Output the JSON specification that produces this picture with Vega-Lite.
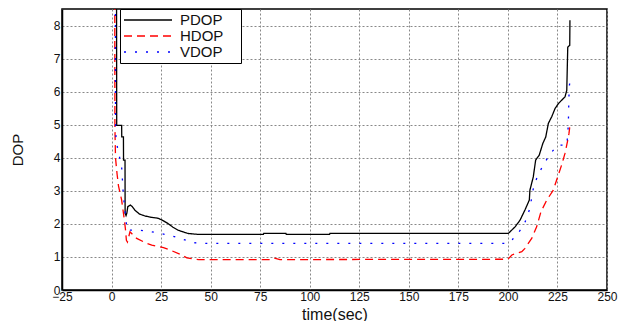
{
  "$schema": "https://vega.github.io/schema/vega-lite/v6.json",
  "width": 545,
  "height": 281,
  "autosize": "none",
  "padding": {"left": 62, "top": 9, "right": 12, "bottom": 31},
  "background": "white",
  "config": {
    "font": "Liberation Sans",
    "view": {"stroke": "#000", "strokeWidth": 1.5},
    "axis": {
      "domainColor": "#000",
      "domainWidth": 1.5,
      "ticks": false,
      "grid": true,
      "gridColor": "#888",
      "gridDash": [2, 2],
      "gridWidth": 1,
      "labelColor": "#111",
      "labelFontSize": 12,
      "labelFont": "Liberation Sans",
      "titleFont": "Liberation Sans",
      "titleFontWeight": "normal",
      "titleColor": "#111",
      "labelOverlap": false,
      "labelFlush": false
    },
    "legend": {
      "orient": "none",
      "legendX": 58,
      "legendY": 0,
      "strokeColor": "#000",
      "fillColor": "white",
      "padding": 3,
      "symbolType": "M-1,0H5.86",
      "symbolSize": 196,
      "symbolStrokeWidth": 1.3,
      "labelFontSize": 15,
      "labelColor": "#111",
      "labelFont": "Liberation Sans",
      "labelOffset": 41,
      "rowPadding": 0,
      "titleOrient": "right",
      "titlePadding": 15,
      "titleFontSize": 10
    }
  },
  "data": {
    "values": [
      {"t": 2.4, "v": 15, "s": "PDOP"},
      {"t": 2.6, "v": 4.98, "s": "PDOP"},
      {"t": 5.1, "v": 4.98, "s": "PDOP"},
      {"t": 5.15, "v": 4.63, "s": "PDOP"},
      {"t": 6.0, "v": 4.63, "s": "PDOP"},
      {"t": 6.05, "v": 3.93, "s": "PDOP"},
      {"t": 6.8, "v": 3.93, "s": "PDOP"},
      {"t": 6.85, "v": 2.32, "s": "PDOP"},
      {"t": 7.3, "v": 2.25, "s": "PDOP"},
      {"t": 7.7, "v": 2.32, "s": "PDOP"},
      {"t": 8.2, "v": 2.52, "s": "PDOP"},
      {"t": 9.5, "v": 2.57, "s": "PDOP"},
      {"t": 10.5, "v": 2.52, "s": "PDOP"},
      {"t": 11.7, "v": 2.42, "s": "PDOP"},
      {"t": 14, "v": 2.3, "s": "PDOP"},
      {"t": 16.8, "v": 2.24, "s": "PDOP"},
      {"t": 20, "v": 2.2, "s": "PDOP"},
      {"t": 23.5, "v": 2.17, "s": "PDOP"},
      {"t": 26, "v": 2.1, "s": "PDOP"},
      {"t": 28.5, "v": 2.01, "s": "PDOP"},
      {"t": 31, "v": 1.9, "s": "PDOP"},
      {"t": 33.5, "v": 1.81, "s": "PDOP"},
      {"t": 36, "v": 1.76, "s": "PDOP"},
      {"t": 38.5, "v": 1.71, "s": "PDOP"},
      {"t": 44, "v": 1.68, "s": "PDOP"},
      {"t": 76.6, "v": 1.68, "s": "PDOP"},
      {"t": 76.8, "v": 1.71, "s": "PDOP"},
      {"t": 88, "v": 1.71, "s": "PDOP"},
      {"t": 88.2, "v": 1.68, "s": "PDOP"},
      {"t": 110, "v": 1.68, "s": "PDOP"},
      {"t": 110.2, "v": 1.71, "s": "PDOP"},
      {"t": 200.2, "v": 1.71, "s": "PDOP"},
      {"t": 203.6, "v": 1.91, "s": "PDOP"},
      {"t": 206.1, "v": 2.11, "s": "PDOP"},
      {"t": 208.6, "v": 2.42, "s": "PDOP"},
      {"t": 210.8, "v": 2.72, "s": "PDOP"},
      {"t": 211.1, "v": 3.02, "s": "PDOP"},
      {"t": 212.8, "v": 3.42, "s": "PDOP"},
      {"t": 214, "v": 3.93, "s": "PDOP"},
      {"t": 215.8, "v": 4.08, "s": "PDOP"},
      {"t": 217.6, "v": 4.43, "s": "PDOP"},
      {"t": 219.1, "v": 4.63, "s": "PDOP"},
      {"t": 220.4, "v": 5.04, "s": "PDOP"},
      {"t": 222.1, "v": 5.24, "s": "PDOP"},
      {"t": 223.8, "v": 5.49, "s": "PDOP"},
      {"t": 225.5, "v": 5.64, "s": "PDOP"},
      {"t": 227.1, "v": 5.74, "s": "PDOP"},
      {"t": 228.8, "v": 5.84, "s": "PDOP"},
      {"t": 229.7, "v": 6.04, "s": "PDOP"},
      {"t": 230.2, "v": 7.35, "s": "PDOP"},
      {"t": 231.2, "v": 7.4, "s": "PDOP"},
      {"t": 231.3, "v": 8.16, "s": "PDOP"},

      {"t": 1.5, "v": 15, "s": "HDOP"},
      {"t": 1.7, "v": 4.9, "s": "HDOP"},
      {"t": 2.0, "v": 4.0, "s": "HDOP"},
      {"t": 2.8, "v": 3.5, "s": "HDOP"},
      {"t": 3.5, "v": 3.15, "s": "HDOP"},
      {"t": 5.1, "v": 2.72, "s": "HDOP"},
      {"t": 6.5, "v": 2.1, "s": "HDOP"},
      {"t": 7.0, "v": 1.85, "s": "HDOP"},
      {"t": 7.5, "v": 1.5, "s": "HDOP"},
      {"t": 8.0, "v": 1.45, "s": "HDOP"},
      {"t": 9.3, "v": 1.76, "s": "HDOP"},
      {"t": 12.7, "v": 1.56, "s": "HDOP"},
      {"t": 17.8, "v": 1.41, "s": "HDOP"},
      {"t": 20.3, "v": 1.36, "s": "HDOP"},
      {"t": 26.2, "v": 1.28, "s": "HDOP"},
      {"t": 29.5, "v": 1.21, "s": "HDOP"},
      {"t": 35.4, "v": 1.06, "s": "HDOP"},
      {"t": 38, "v": 0.97, "s": "HDOP"},
      {"t": 44, "v": 0.92, "s": "HDOP"},
      {"t": 80, "v": 0.92, "s": "HDOP"},
      {"t": 82, "v": 0.97, "s": "HDOP"},
      {"t": 85, "v": 0.92, "s": "HDOP"},
      {"t": 200, "v": 0.93, "s": "HDOP"},
      {"t": 202, "v": 1.06, "s": "HDOP"},
      {"t": 207, "v": 1.16, "s": "HDOP"},
      {"t": 208.6, "v": 1.26, "s": "HDOP"},
      {"t": 212, "v": 1.56, "s": "HDOP"},
      {"t": 214.5, "v": 1.91, "s": "HDOP"},
      {"t": 216.7, "v": 2.37, "s": "HDOP"},
      {"t": 219.6, "v": 2.72, "s": "HDOP"},
      {"t": 222.9, "v": 3.02, "s": "HDOP"},
      {"t": 225.1, "v": 3.42, "s": "HDOP"},
      {"t": 227.1, "v": 3.78, "s": "HDOP"},
      {"t": 228.8, "v": 4.13, "s": "HDOP"},
      {"t": 230.2, "v": 4.53, "s": "HDOP"},
      {"t": 230.8, "v": 4.73, "s": "HDOP"},
      {"t": 231.3, "v": 4.98, "s": "HDOP"},

      {"t": 1.8, "v": 15, "s": "VDOP"},
      {"t": 2.0, "v": 5.1, "s": "VDOP"},
      {"t": 2.3, "v": 4.5, "s": "VDOP"},
      {"t": 5.1, "v": 3.72, "s": "VDOP"},
      {"t": 6.0, "v": 2.82, "s": "VDOP"},
      {"t": 6.8, "v": 2.42, "s": "VDOP"},
      {"t": 7.5, "v": 2.0, "s": "VDOP"},
      {"t": 7.7, "v": 1.81, "s": "VDOP"},
      {"t": 14.4, "v": 1.81, "s": "VDOP"},
      {"t": 20.3, "v": 1.76, "s": "VDOP"},
      {"t": 30.4, "v": 1.64, "s": "VDOP"},
      {"t": 36.2, "v": 1.53, "s": "VDOP"},
      {"t": 41.3, "v": 1.43, "s": "VDOP"},
      {"t": 48, "v": 1.41, "s": "VDOP"},
      {"t": 200, "v": 1.41, "s": "VDOP"},
      {"t": 202.3, "v": 1.53, "s": "VDOP"},
      {"t": 205.6, "v": 1.76, "s": "VDOP"},
      {"t": 208.1, "v": 1.96, "s": "VDOP"},
      {"t": 211.1, "v": 2.47, "s": "VDOP"},
      {"t": 212.5, "v": 2.97, "s": "VDOP"},
      {"t": 213.2, "v": 3.17, "s": "VDOP"},
      {"t": 214.5, "v": 3.37, "s": "VDOP"},
      {"t": 216.5, "v": 3.63, "s": "VDOP"},
      {"t": 218.7, "v": 3.85, "s": "VDOP"},
      {"t": 220.7, "v": 4.08, "s": "VDOP"},
      {"t": 225.1, "v": 4.38, "s": "VDOP"},
      {"t": 229.7, "v": 4.38, "s": "VDOP"},
      {"t": 230.2, "v": 4.73, "s": "VDOP"},
      {"t": 230.5, "v": 5.04, "s": "VDOP"},
      {"t": 230.7, "v": 5.59, "s": "VDOP"},
      {"t": 230.9, "v": 6.09, "s": "VDOP"},
      {"t": 231.3, "v": 6.34, "s": "VDOP"}
    ]
  },
  "mark": {"type": "line", "clip": true, "strokeWidth": 1.3},
  "encoding": {
    "x": {
      "field": "t",
      "type": "quantitative",
      "scale": {"domain": [-25, 250], "nice": false, "zero": false},
      "axis": {
        "title": "time(sec)",
        "titleFontSize": 16,
        "titlePadding": 4,
        "labelPadding": 1,
        "values": [-25, 0, 25, 50, 75, 100, 125, 150, 175, 200, 225, 250]
      }
    },
    "y": {
      "field": "v",
      "type": "quantitative",
      "scale": {"domain": [0, 8.5], "nice": false, "zero": false},
      "axis": {
        "title": "DOP",
        "titleFontSize": 15,
        "titlePadding": 28,
        "labelPadding": 2,
        "values": [0, 1, 2, 3, 4, 5, 6, 7, 8]
      }
    },
    "color": {
      "field": "s",
      "type": "nominal",
      "scale": {"domain": ["PDOP", "HDOP", "VDOP"], "range": ["#000000", "#ff0000", "#0000ff"]},
      "legend": {"title": "\u00a0"}
    },
    "strokeDash": {
      "field": "s",
      "type": "nominal",
      "scale": {"domain": ["PDOP", "HDOP", "VDOP"], "range": [[1, 0], [8, 5], [2, 9]]},
      "legend": {"title": "\u00a0"}
    }
  }
}
